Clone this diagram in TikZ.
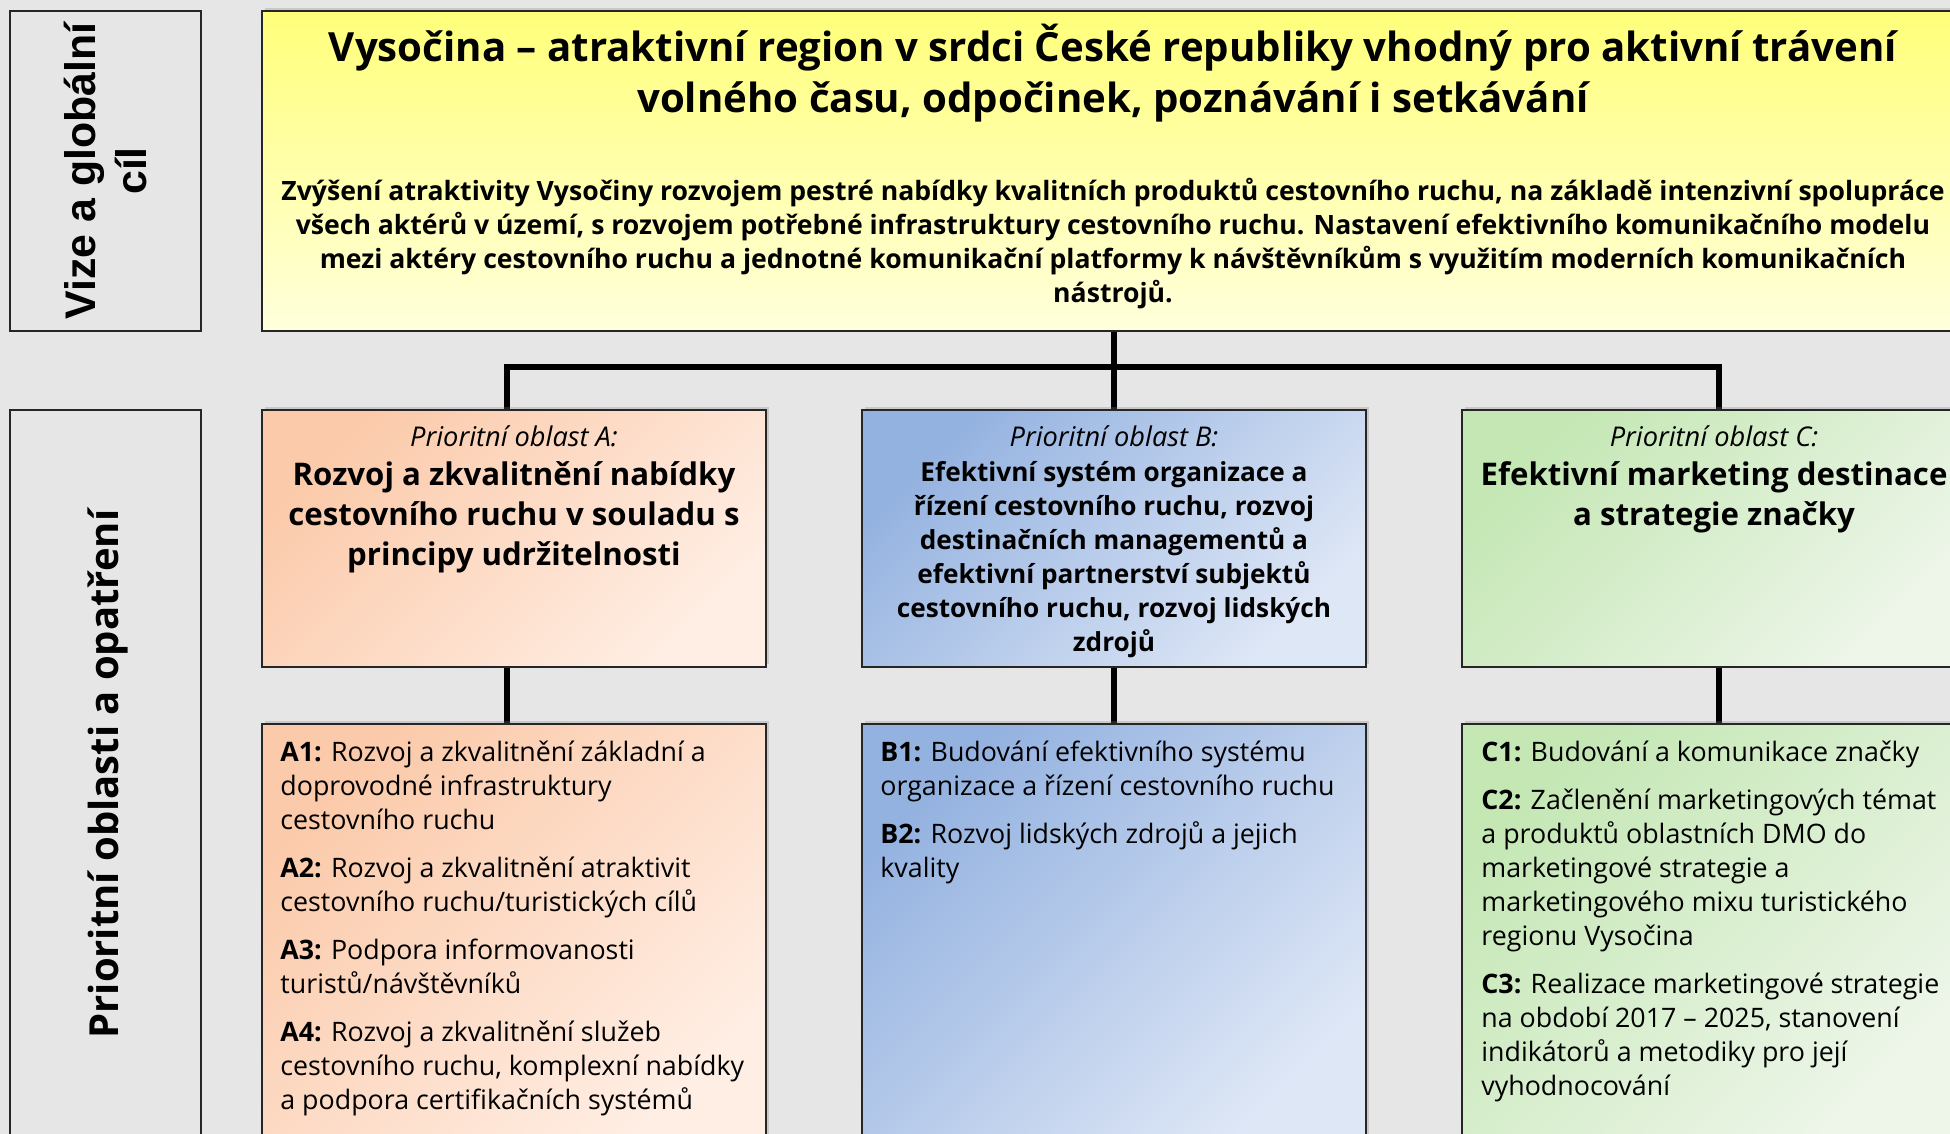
\documentclass[tikz,border=0pt]{standalone}
\usepackage{fontspec}
\setmainfont{Open Sans}
\newfontfamily\arialfont{Liberation Sans}
\usetikzlibrary{shadows}
\definecolor{bg}{RGB}{230,230,230}
\definecolor{yelTop}{RGB}{255,255,122}
\definecolor{yelBot}{RGB}{255,255,220}
\definecolor{aTop}{RGB}{251,202,170}
\definecolor{aBot}{RGB}{255,238,228}
\definecolor{bTop}{RGB}{148,178,224}
\definecolor{bBot}{RGB}{222,231,246}
\definecolor{cTop}{RGB}{196,231,180}
\definecolor{cBot}{RGB}{238,246,234}
\pgfdeclarelayer{bottom}
\pgfdeclarelayer{background}
\pgfsetlayers{bottom,background,main}
\begin{document}
\begin{tikzpicture}[x=0.5pt,y=-0.5pt,
  frame/.style={draw=black!85,line width=1.1pt,inner sep=0pt,outer sep=0pt,anchor=north west},
  panel/.style={frame,drop shadow={shadow xshift=1.6pt,shadow yshift=1.6pt,opacity=0.28}},
  grad/.style 2 args={top color=#1,bottom color=#2,shading angle=45},
  conn/.style={line width=3.2pt,black},
  title/.style={font=\fontsize{20.1}{25.5}\selectfont\bfseries,align=center,inner sep=0pt,anchor=north},
  para/.style={font=\fontsize{13.3}{17}\selectfont\bfseries,align=center,inner sep=0pt,anchor=north},
  oblast/.style={font=\fontsize{13.6}{15}\selectfont\itshape,inner sep=0pt,anchor=north},
  headbig/.style={font=\fontsize{15.6}{20}\selectfont\bfseries,align=center,inner sep=0pt,anchor=north},
  headsmall/.style={font=\fontsize{13.1}{17}\selectfont\bfseries,align=center,inner sep=0pt,anchor=north},
  item/.style={font=\fontsize{13.4}{17}\selectfont,align=left,inner sep=0pt,anchor=north west},
  sidelabel/.style={rotate=90,align=center,inner sep=0pt}
]
\useasboundingbox (0,0) rectangle (1950,1134);
\begin{pgfonlayer}{bottom}
  \fill[bg] (0,0) rectangle (1950,1134);
\end{pgfonlayer}

% left labels
\node[frame,minimum width=95.5pt,minimum height=160pt] (lab1) at (10,11) {};
\node[sidelabel,font=\arialfont\fontsize{21.4}{25.5}\selectfont\bfseries] (lab1t) at (lab1.center) {Vize a globální\\cíl};
\node[frame,minimum width=95.5pt,minimum height=365pt] (lab2) at (10,410) {};
\node[sidelabel,font=\fontsize{20}{24}\selectfont\bfseries] (lab2t) at (108,774) {Prioritní oblasti a opatření};

% vision box
\node[panel,top color=yelTop,bottom color=yelBot,minimum width=851pt,minimum height=160pt] (yel) at (262,11) {};
\node[title] (yelT) at (1113,24) {Vysočina – atraktivní region v srdci České republiky vhodný pro aktivní trávení\\volného času, odpočinek, poznávání i setkávání};
\node[para] (yelP) at (1113,178) {Zvýšení atraktivity Vysočiny rozvojem pestré nabídky kvalitních produktů cestovního ruchu, na základě intenzivní spolupráce\\všech aktérů v území, s rozvojem potřebné infrastruktury cestovního ruchu. Nastavení efektivního komunikačního modelu\\mezi aktéry cestovního ruchu a jednotné komunikační platformy k návštěvníkům s využitím moderních komunikačních\\nástrojů.};

% priority boxes
\node[panel,grad={aTop}{aBot},minimum width=252pt,minimum height=128.5pt] (boxA) at (262,410) {};
\node[panel,grad={bTop}{bBot},minimum width=252pt,minimum height=128.5pt] (boxB) at (862,410) {};
\node[panel,grad={cTop}{cBot},minimum width=252pt,minimum height=128.5pt] (boxC) at (1462,410) {};

\node[oblast] (oA) at (514,425) {Prioritní oblast A:};
\node[headbig] (hA) at (514,461) {Rozvoj a zkvalitnění nabídky\\cestovního ruchu v souladu s\\principy udržitelnosti};
\node[oblast] (oB) at (1114,425) {Prioritní oblast B:};
\node[headsmall] (hB) at (1114,461) {Efektivní systém organizace a\\řízení cestovního ruchu, rozvoj\\destinačních managementů a\\efektivní partnerství subjektů\\cestovního ruchu, rozvoj lidských\\zdrojů};
\node[oblast] (oC) at (1714,425) {Prioritní oblast C:};
\node[headbig] (hC) at (1714,461) {Efektivní marketing destinace\\a strategie značky};

% measure boxes
\node[panel,grad={aTop}{aBot},minimum width=252pt,minimum height=210pt] (subA) at (262,724) {};
\node[panel,grad={bTop}{bBot},minimum width=252pt,minimum height=210pt] (subB) at (862,724) {};
\node[panel,grad={cTop}{cBot},minimum width=252pt,minimum height=210pt] (subC) at (1462,724) {};

\node[item] (tA) at (280,741) {\textbf{A1:} Rozvoj a zkvalitnění základní a\\doprovodné infrastruktury\\cestovního ruchu\\[7pt]
\textbf{A2:} Rozvoj a zkvalitnění atraktivit\\cestovního ruchu/turistických cílů\\[7pt]
\textbf{A3:} Podpora informovanosti\\turistů/návštěvníků\\[7pt]
\textbf{A4:} Rozvoj a zkvalitnění služeb\\cestovního ruchu, komplexní nabídky\\a podpora certifikačních systémů};
\node[item] (tB) at (880,741) {\textbf{B1:} Budování efektivního systému\\organizace a řízení cestovního ruchu\\[7pt]
\textbf{B2:} Rozvoj lidských zdrojů a jejich\\kvality};
\node[item] (tC) at (1481,741) {\textbf{C1:} Budování a komunikace značky\\[7pt]
\textbf{C2:} Začlenění marketingových témat\\a produktů oblastních DMO do\\marketingové strategie a\\marketingového mixu turistického\\regionu Vysočina\\[7pt]
\textbf{C3:} Realizace marketingové strategie\\na období 2017 – 2025, stanovení\\indikátorů a metodiky pro její\\vyhodnocování};

% connectors
\coordinate (jA) at (507,367);
\coordinate (jB) at (1114,367);
\coordinate (jC) at (1719,367);
\begin{pgfonlayer}{background}
  \draw[conn] (yel.south -| jB) -- (boxB.north -| jB);
  \draw[conn] (boxA.north -| jA) -- (jA) -- (jC) -- (boxC.north -| jC);
  \draw[conn] (boxA.south -| jA) -- (subA.north -| jA);
  \draw[conn] (boxB.south -| jB) -- (subB.north -| jB);
  \draw[conn] (boxC.south -| jC) -- (subC.north -| jC);
\end{pgfonlayer}
\end{tikzpicture}
\end{document}
